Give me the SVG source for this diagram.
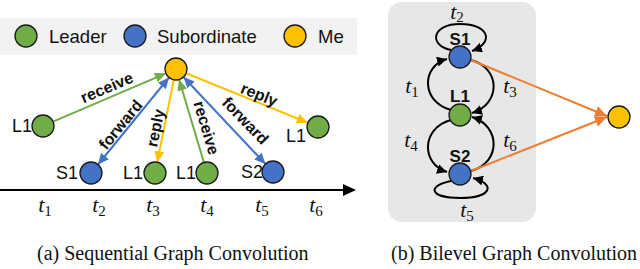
<svg xmlns="http://www.w3.org/2000/svg" width="640" height="269" viewBox="0 0 640 269">
<style>
.node{stroke:#1a1a1a;stroke-width:1.3}
.g{fill:#70AD47}.b{fill:#4472C4}.y{fill:#FFC000}
.lbl{font-family:"Liberation Sans",Arial,sans-serif;font-size:18px;fill:#111}
.lg{font-family:"Liberation Sans",Arial,sans-serif;font-size:18.5px;fill:#111}
.bl{font-family:"Liberation Sans",Arial,sans-serif;font-size:17px;font-weight:bold;fill:#111}
.el{font-family:"Liberation Sans",Arial,sans-serif;font-size:16px;font-weight:bold;fill:#111;text-anchor:middle}
.t{font-family:"Liberation Serif","Times New Roman",serif;font-style:italic;font-size:22px;fill:#111;text-anchor:middle}
.sub{font-style:normal;font-size:15px}
.cap{font-family:"Liberation Serif","Times New Roman",serif;font-size:20px;fill:#111}
.e{fill:none;stroke-width:2}
.eg{stroke:#70AD47}.eb{stroke:#4472C4}.ey{stroke:#FFC000}.eo{stroke:#ED7D31}.ek{stroke:#000}
</style>
<defs>
<marker id="ag" markerUnits="userSpaceOnUse" markerWidth="12" markerHeight="10" refX="11" refY="5" orient="auto"><path d="M0,0 L11,5 L0,10 z" fill="#70AD47"/></marker>
<marker id="ab" markerUnits="userSpaceOnUse" markerWidth="12" markerHeight="10" refX="11" refY="5" orient="auto-start-reverse"><path d="M0,0 L11,5 L0,10 z" fill="#4472C4"/></marker>
<marker id="ay" markerUnits="userSpaceOnUse" markerWidth="12" markerHeight="10" refX="11" refY="5" orient="auto"><path d="M0,0 L11,5 L0,10 z" fill="#FFC000"/></marker>
<marker id="ao" markerUnits="userSpaceOnUse" markerWidth="13" markerHeight="11" refX="12" refY="5.5" orient="auto"><path d="M0,0 L12,5.5 L0,11 z" fill="#ED7D31"/></marker>
<marker id="ak" markerUnits="userSpaceOnUse" markerWidth="11" markerHeight="10" refX="10" refY="5" orient="auto"><path d="M0,0 L10,5 L0,10 z" fill="#000"/></marker>
</defs>

<!-- legend -->
<g id="legend">
<rect x="0" y="18" width="357" height="37" fill="#F2F2F2"/>
<circle class="node g" cx="26" cy="36" r="11"/>
<text class="lg" x="49" y="43">Leader</text>
<circle class="node b" cx="135" cy="36" r="11"/>
<text class="lg" x="157" y="43">Subordinate</text>
<circle class="node y" cx="295" cy="36" r="11"/>
<text class="lg" x="318" y="43">Me</text>
</g>

<!-- panel b background -->
<rect x="388" y="2" width="148" height="220" rx="14" fill="#E7E7E7"/>

<!-- connectors -->
<g id="connectors">
<line x1="0" y1="190" x2="345" y2="190" stroke="#000" stroke-width="2"/>
<path d="M343,184 L356,190 L343,196 z" fill="#000"/>
<line class="e eg" x1="53" y1="121.7" x2="165.9" y2="73.3" marker-end="url(#ag)"/>
<line class="e eb" x1="98" y1="164.5" x2="169" y2="77.5" marker-start="url(#ab)" marker-end="url(#ab)"/>
<line class="e ey" x1="173.8" y1="79.8" x2="157.2" y2="162.2" marker-end="url(#ay)"/>
<line class="e eg" x1="203.9" y1="162.5" x2="179.1" y2="79.5" marker-end="url(#ag)"/>
<line class="e eb" x1="183.5" y1="77" x2="265.5" y2="164" marker-start="url(#ab)" marker-end="url(#ab)"/>
<line class="e ey" x1="186.2" y1="73.2" x2="307.8" y2="122.8" marker-end="url(#ay)"/>
<text class="el" transform="translate(107,88) rotate(-23.2)" dy="5">receive</text>
<text class="el" transform="translate(121,125) rotate(-50.7)" dy="5">forward</text>
<text class="el" transform="translate(156,128) rotate(-78.6)" dy="5">reply</text>
<text class="el" transform="translate(206,128) rotate(73.4)" dy="5">receive</text>
<text class="el" transform="translate(245,121) rotate(46)" dy="5">forward</text>
<text class="el" transform="translate(259,95) rotate(22.2)" dy="5">reply</text>

<path class="e ek" d="M451,110 C421,102 421,66 447,59" marker-end="url(#ak)"/>
<path class="e ek" d="M471,60 C501,68 501,104 472,113" marker-end="url(#ak)"/>
<path class="e ek" d="M451,120 C421,128 421,164 447,172" marker-end="url(#ak)"/>
<path class="e ek" d="M471,171 C501,163 501,126 472,117" marker-end="url(#ak)"/>
<path class="e ek" d="M451,50 C428,45 432,24 460,24 C490,24 494,43 472,51" marker-end="url(#ak)"/>
<path class="e ek" d="M451,181 C426,186 430,198 460,198 C492,198 496,184 473,178" marker-end="url(#ak)"/>
<line class="e eo" x1="471" y1="60" x2="607" y2="116" marker-end="url(#ao)"/>
<line class="e eo" x1="471" y1="171" x2="607" y2="117" marker-end="url(#ao)"/>
</g>

<!-- panel a nodes -->
<g id="me-a"><circle class="node y" cx="176" cy="69" r="11"/></g>
<g id="l1-t1"><circle class="node g" cx="43" cy="126" r="11"/><text class="lbl" x="32" y="132" text-anchor="end">L1</text></g>
<g id="s1-t2"><circle class="node b" cx="91" cy="173" r="11"/><text class="lbl" x="78" y="179" text-anchor="end">S1</text></g>
<g id="l1-t3"><circle class="node g" cx="155" cy="173" r="11"/><text class="lbl" x="143" y="179" text-anchor="end">L1</text></g>
<g id="l1-t4"><circle class="node g" cx="207" cy="173" r="11"/><text class="lbl" x="196" y="179" text-anchor="end">L1</text></g>
<g id="s2-t5"><circle class="node b" cx="273" cy="172" r="11"/><text class="lbl" x="263" y="178" text-anchor="end">S2</text></g>
<g id="l1-t6"><circle class="node g" cx="318" cy="127" r="11"/><text class="lbl" x="306" y="142" text-anchor="end">L1</text></g>

<!-- time labels a -->
<g id="time-a">
<text class="t" x="45" y="212">t<tspan class="sub" dy="4">1</tspan></text>
<text class="t" x="99" y="212">t<tspan class="sub" dy="4">2</tspan></text>
<text class="t" x="153" y="212">t<tspan class="sub" dy="4">3</tspan></text>
<text class="t" x="207" y="212">t<tspan class="sub" dy="4">4</tspan></text>
<text class="t" x="262" y="212">t<tspan class="sub" dy="4">5</tspan></text>
<text class="t" x="316" y="212">t<tspan class="sub" dy="4">6</tspan></text>
</g>

<!-- panel b nodes -->
<g id="s1-b"><circle class="node b" cx="460" cy="57" r="11"/><text class="bl" x="460" y="45" text-anchor="middle">S1</text></g>
<g id="l1-b"><circle class="node g" cx="460" cy="115" r="11"/><text class="bl" x="460" y="102" text-anchor="middle">L1</text></g>
<g id="s2-b"><circle class="node b" cx="460" cy="174" r="11"/><text class="bl" x="460" y="162" text-anchor="middle">S2</text></g>
<g id="me-b"><circle class="node y" cx="619" cy="117" r="11"/></g>

<g id="time-b">
<text class="t" x="457" y="19" font-size="21">t<tspan class="sub" dy="3">2</tspan></text>
<text class="t" x="412" y="93">t<tspan class="sub" dy="4">1</tspan></text>
<text class="t" x="510" y="93">t<tspan class="sub" dy="4">3</tspan></text>
<text class="t" x="411" y="147">t<tspan class="sub" dy="4">4</tspan></text>
<text class="t" x="510" y="147">t<tspan class="sub" dy="4">6</tspan></text>
<text class="t" x="467" y="217">t<tspan class="sub" dy="4">5</tspan></text>
</g>

<text class="cap" x="37" y="260">(a) Sequential Graph Convolution</text>
<text class="cap" x="391" y="260">(b) Bilevel Graph Convolution</text>
</svg>
